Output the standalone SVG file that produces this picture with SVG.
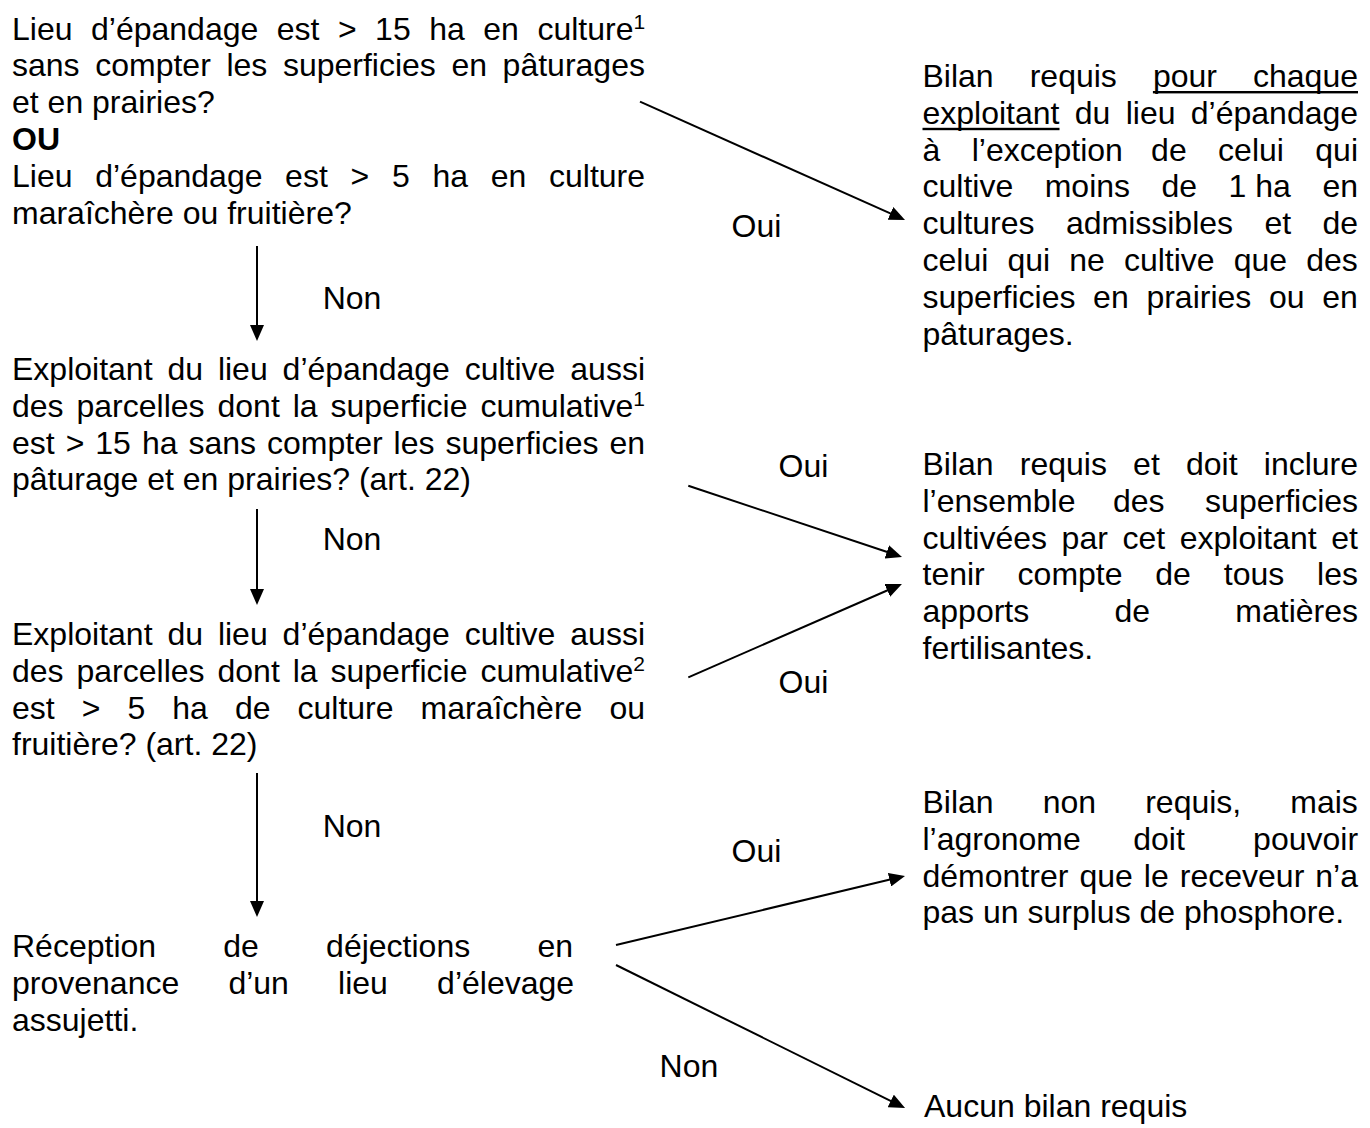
<svg xmlns="http://www.w3.org/2000/svg" width="1370" height="1128" viewBox="0 0 1370 1128">
<style>
text{font-family:"Liberation Sans",Arial,sans-serif;font-size:32px;fill:#000}
.b{font-weight:bold}
.sup{font-size:21px}
.ln{stroke:#000;stroke-width:2;fill:none}
</style>
<defs>
<marker id="ah" markerUnits="userSpaceOnUse" markerWidth="16" markerHeight="14" viewBox="0 0 16 14" refX="6" refY="7" orient="auto">
<path d="M0,0 L16,7 L0,14 z" fill="#000"/>
</marker>
</defs>
<rect width="1370" height="1128" fill="#fff"/>

<g id="q1">
<text y="39.5"><tspan x="12">Lieu</tspan><tspan x="91">d’épandage</tspan><tspan x="276.7">est</tspan><tspan x="337.9">&gt;</tspan><tspan x="375.1">15</tspan><tspan x="429.2">ha</tspan><tspan x="483.3">en</tspan><tspan x="537.4">culture</tspan></text>
<text class="sup" x="633.4" y="29">1</text>
<text y="76.3"><tspan x="12">sans</tspan><tspan x="95.2">compter</tspan><tspan x="226.4">les</tspan><tspan x="282.9">superficies</tspan><tspan x="451.4">en</tspan><tspan x="502.6">pâturages</tspan></text>
<text x="12" y="113.1">et en prairies?</text>
<text class="b" x="12" y="149.9">OU</text>
<text y="186.7"><tspan x="12">Lieu</tspan><tspan x="95.2">d’épandage</tspan><tspan x="285.1">est</tspan><tspan x="350.5">&gt;</tspan><tspan x="391.9">5</tspan><tspan x="432.4">ha</tspan><tspan x="490.7">en</tspan><tspan x="549">culture</tspan></text>
<text x="12" y="223.5">maraîchère ou fruitière?</text>
</g>

<g id="q2">
<text y="380"><tspan x="12">Exploitant</tspan><tspan x="167.4">du</tspan><tspan x="217.9">lieu</tspan><tspan x="282.6">d’épandage</tspan><tspan x="464.7">cultive</tspan><tspan x="570.3">aussi</tspan></text>
<text y="416.8"><tspan x="12">des</tspan><tspan x="76.5">parcelles</tspan><tspan x="217.5">dont</tspan><tspan x="292.7">la</tspan><tspan x="330.5">superficie</tspan><tspan x="480.4">cumulative</tspan></text>
<text class="sup" x="633.3" y="406.2">1</text>
<text y="453.6"><tspan x="12">est</tspan><tspan x="65.7">&gt;</tspan><tspan x="95.3">15</tspan><tspan x="141.9">ha</tspan><tspan x="188.5">sans</tspan><tspan x="267">compter</tspan><tspan x="393.6">les</tspan><tspan x="445.5">superficies</tspan><tspan x="609.4">en</tspan></text>
<text x="12" y="490.4">pâturage et en prairies? (art. 22)</text>
</g>

<g id="q3">
<text y="645"><tspan x="12">Exploitant</tspan><tspan x="167.4">du</tspan><tspan x="217.9">lieu</tspan><tspan x="282.6">d’épandage</tspan><tspan x="464.7">cultive</tspan><tspan x="570.3">aussi</tspan></text>
<text y="681.8"><tspan x="12">des</tspan><tspan x="76.5">parcelles</tspan><tspan x="217.5">dont</tspan><tspan x="292.7">la</tspan><tspan x="330.5">superficie</tspan><tspan x="480.4">cumulative</tspan></text>
<text class="sup" x="633.3" y="671.2">2</text>
<text y="718.6"><tspan x="12">est</tspan><tspan x="81.7">&gt;</tspan><tspan x="127.4">5</tspan><tspan x="172.3">ha</tspan><tspan x="234.9">de</tspan><tspan x="297.5">culture</tspan><tspan x="420.5">maraîchère</tspan><tspan x="609.4">ou</tspan></text>
<text x="12" y="755.4">fruitière? (art. 22)</text>
</g>

<g id="q4">
<text y="957"><tspan x="12">Réception</tspan><tspan x="223.3">de</tspan><tspan x="326.1">déjections</tspan><tspan x="537.4">en</tspan></text>
<text y="993.8"><tspan x="12">provenance</tspan><tspan x="228.4">d’un</tspan><tspan x="338.1">lieu</tspan><tspan x="437.1">d’élevage</tspan></text>
<text x="12" y="1030.6">assujetti.</text>
</g>

<g id="r1">
<text y="87"><tspan x="922.5">Bilan</tspan><tspan x="1029.7">requis</tspan><tspan x="1152.9">pour</tspan><tspan x="1253">chaque</tspan></text>
<rect x="1152.9" y="91" width="205.1" height="2.4" fill="#000"/>
<text y="123.8"><tspan x="922.5">exploitant</tspan><tspan x="1074.8">du</tspan><tspan x="1125.7">lieu</tspan><tspan x="1190.8">d’épandage</tspan></text>
<rect x="922.5" y="127.8" width="137" height="2.4" fill="#000"/>
<text y="160.6"><tspan x="922.5">à</tspan><tspan x="971.7">l’exception</tspan><tspan x="1151.1">de</tspan><tspan x="1218.1">celui</tspan><tspan x="1315.3">qui</tspan></text>
<text y="197.4"><tspan x="922.5">cultive</tspan><tspan x="1044.7">moins</tspan><tspan x="1161.5">de</tspan><tspan x="1228.6">1 ha</tspan><tspan x="1322.4">en</tspan></text>
<text y="234.2"><tspan x="922.5">cultures</tspan><tspan x="1065.9">admissibles</tspan><tspan x="1264.4">et</tspan><tspan x="1322.5">de</tspan></text>
<text y="271"><tspan x="922.5">celui</tspan><tspan x="1007.4">qui</tspan><tspan x="1069.2">ne</tspan><tspan x="1123.9">cultive</tspan><tspan x="1233.7">que</tspan><tspan x="1306.2">des</tspan></text>
<text y="307.8"><tspan x="922.5">superficies</tspan><tspan x="1093.1">en</tspan><tspan x="1146.4">prairies</tspan><tspan x="1269">ou</tspan><tspan x="1322.3">en</tspan></text>
<text x="922.5" y="344.6">pâturages.</text>
</g>

<g id="r2">
<text y="475"><tspan x="922.5">Bilan</tspan><tspan x="1019.8">requis</tspan><tspan x="1133.1">et</tspan><tspan x="1186">doit</tspan><tspan x="1263.8">inclure</tspan></text>
<text y="511.8"><tspan x="922.5">l’ensemble</tspan><tspan x="1112.9">des</tspan><tspan x="1205.1">superficies</tspan></text>
<text y="548.6"><tspan x="922.5">cultivées</tspan><tspan x="1061.6">par</tspan><tspan x="1122.4">cet</tspan><tspan x="1179.7">exploitant</tspan><tspan x="1331.3">et</tspan></text>
<text y="585.4"><tspan x="922.5">tenir</tspan><tspan x="1017.6">compte</tspan><tspan x="1155.3">de</tspan><tspan x="1223.8">tous</tspan><tspan x="1317.1">les</tspan></text>
<text y="622.2"><tspan x="922.5">apports</tspan><tspan x="1114.5">de</tspan><tspan x="1235.3">matières</tspan></text>
<text x="922.5" y="659">fertilisantes.</text>
</g>

<g id="r3">
<text y="813"><tspan x="922.5">Bilan</tspan><tspan x="1042.7">non</tspan><tspan x="1145.2">requis,</tspan><tspan x="1290.3">mais</tspan></text>
<text y="849.8"><tspan x="922.5">l’agronome</tspan><tspan x="1133.2">doit</tspan><tspan x="1253.1">pouvoir</tspan></text>
<text y="886.6"><tspan x="922.5">démontrer</tspan><tspan x="1079.4">que</tspan><tspan x="1143.8">le</tspan><tspan x="1179.8">receveur</tspan><tspan x="1315.3">n’a</tspan></text>
<text x="922.5" y="923.4">pas un surplus de phosphore.</text>
</g>

<g id="r4">
<text x="924" y="1117">Aucun bilan requis</text>
</g>

<g id="connectors">
<line class="ln" x1="257" y1="246" x2="257" y2="331" marker-end="url(#ah)"/>
<line class="ln" x1="257" y1="509" x2="257" y2="595" marker-end="url(#ah)"/>
<line class="ln" x1="257" y1="773" x2="257" y2="907" marker-end="url(#ah)"/>
<line class="ln" x1="640" y1="101.7" x2="895.9" y2="215.9" marker-end="url(#ah)"/>
<line class="ln" x1="688.3" y1="485.7" x2="892.5" y2="553.8" marker-end="url(#ah)"/>
<line class="ln" x1="688.3" y1="677.3" x2="892.8" y2="588" marker-end="url(#ah)"/>
<line class="ln" x1="616" y1="945" x2="895.3" y2="878.3" marker-end="url(#ah)"/>
<line class="ln" x1="616" y1="965" x2="896.1" y2="1103.6" marker-end="url(#ah)"/>
<text x="322.7" y="309">Non</text>
<text x="322.7" y="550">Non</text>
<text x="322.7" y="837">Non</text>
<text x="731.5" y="237">Oui</text>
<text x="778.5" y="477">Oui</text>
<text x="778.5" y="693">Oui</text>
<text x="731.5" y="862">Oui</text>
<text x="659.6" y="1077">Non</text>
</g>
</svg>
